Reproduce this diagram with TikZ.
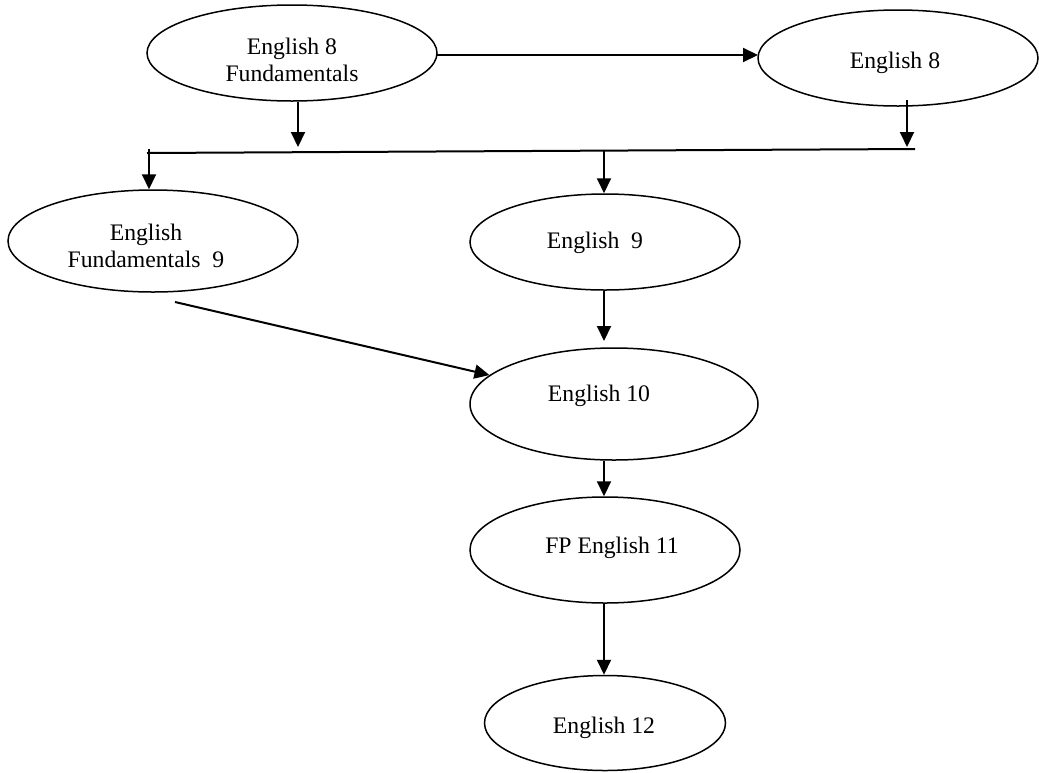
\documentclass[tikz,border=0pt]{standalone}
\usepackage{fontspec}
\setmainfont{Liberation Serif}
\usetikzlibrary{shapes.geometric,arrows.meta}
\begin{document}
\begin{tikzpicture}[x=1pt,y=-1pt,
  ell/.style={draw,ellipse,line width=1.5pt,inner sep=0pt},
  lbl/.style={font=\fontsize{23.7}{27.5}\selectfont,align=center,inner sep=0pt},
  conn/.style={line width=2pt},
  arr/.style={conn,-{Triangle[length=15pt,width=14pt]}}]
\useasboundingbox (0,0) rectangle (1039,772);
% ellipses
\node[ell,minimum width=290pt,minimum height=96pt] (e8f) at (292,53) {};
\node[ell,minimum width=280pt,minimum height=96pt] (e8) at (898,58) {};
\node[ell,minimum width=290pt,minimum height=102pt] (ef9) at (153,241) {};
\node[ell,minimum width=270pt,minimum height=96pt] (e9) at (605,242) {};
\node[ell,minimum width=288pt,minimum height=112pt] (e10) at (614,404) {};
\node[ell,minimum width=270pt,minimum height=106pt] (fp11) at (605,550) {};
\node[ell,minimum width=241pt,minimum height=95pt] (e12) at (605,723) {};
% texts
\node[lbl] (e8f-t) at (292,60) {English 8\\Fundamentals};
\node[lbl,anchor=base] (e8-t) at (895,68) {English 8};
\node[lbl] (ef9-t) at (146,246) {English\\Fundamentals\ \ 9};
\node[lbl,anchor=base] (e9-t) at (595,248) {English\ \ 9};
\node[lbl,anchor=base] (e10-t) at (599,401) {English 10};
\node[lbl,anchor=base] (fp11-t) at (612,553) {FP English 11};
\node[lbl,anchor=base] (e12-t) at (604,733) {English 12};
% helper coordinates
\coordinate (h1) at (437,55);
\coordinate (h2) at (758,55);
\coordinate (barL) at (147,153);
\coordinate (barR) at (915,149);
\coordinate (aL) at (149,149);
\coordinate (aM) at (604,151);
\coordinate (t1) at (298,147);
\coordinate (t2) at (907,147);
\coordinate (s1) at (298,102);
\coordinate (s2) at (907,100);
\coordinate (dstart) at (175,302);
\coordinate (t10) at (604,341);
% connectors
\draw[arr] (h1) -- (h2);
\draw[arr] (s1) -- (t1);
\draw[arr] (s2) -- (t2);
\draw[conn] (barL) -- (barR);
\draw[arr] (aL) -- (aL |- ef9.north);
\draw[arr] (aM) -- (aM |- e9.north);
\draw[arr] (dstart) -- (e10);
\draw[arr] (aM |- e9.south) -- (t10);
\draw[arr] (aM |- e10.south) -- (aM |- fp11.north);
\draw[arr] (aM |- fp11.south) -- (aM |- e12.north);
\end{tikzpicture}
\end{document}
